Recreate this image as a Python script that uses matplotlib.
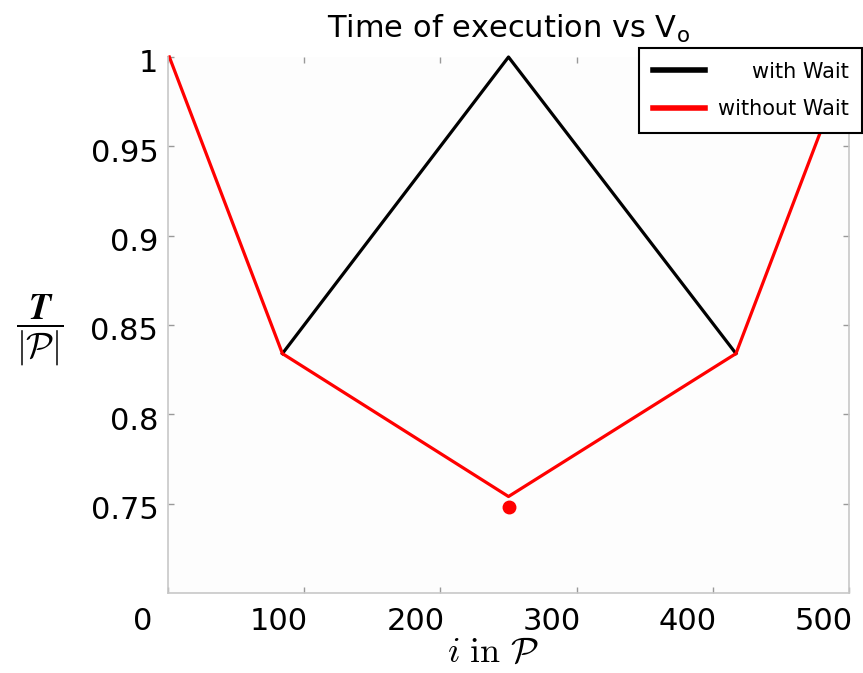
import matplotlib
matplotlib.use("Agg")
import matplotlib.pyplot as plt
from matplotlib.transforms import ScaledTranslation

# data
x_wait = [84, 250, 417]
t_wait = [0.834, 1.0, 0.834]

x_nowait = [1, 84, 250, 417, 500]
t_nowait = [1.0, 0.834, 0.754, 0.834, 1.0]

best_x = [250]
best_t = [0.748]

xticks = [0, 100, 200, 300, 400, 500]
yticks = [0.75, 0.8, 0.85, 0.9, 0.95, 1.0]
ytick_labels = ['0.75', '0.8', '0.85', '0.9', '0.95', '1']

plt.rcParams['font.family'] = 'DejaVu Sans'

fig = plt.figure(figsize=(8.63, 6.73), dpi=100)
ax = fig.add_axes([168/863, 1 - 593/673, (849-168)/863, (593-57)/673])
ax.set_facecolor('#fdfdfd')

ax.plot(x_wait, t_wait, color='black', lw=2.3, label='with Wait', clip_on=False)
ax.plot(x_nowait, t_nowait, color='red', lw=2.3, label='without Wait', clip_on=False)
ax.plot(best_x, best_t, 'o', color='red', ms=9, clip_on=False)

ax.set_xlim(0, 500)
ax.set_ylim(0.7, 1.0)
ax.set_xticks(xticks)
ax.set_xticklabels([str(v) for v in xticks])
ax.set_yticks(yticks)
ax.set_yticklabels(ytick_labels)

for s in ['left', 'bottom', 'right']:
    ax.spines[s].set_color('#c8c8c8')
    ax.spines[s].set_linewidth(1.2)
ax.spines['top'].set_visible(False)
ax.tick_params(direction='in', length=4, width=1, color='#999999',
               top=True, right=True, labelsize=22)
ax.tick_params(axis='x', pad=10)
ax.tick_params(axis='y', pad=7)

# tick labels in the original sit a little off their ticks
dx = ScaledTranslation(-0.25, 0, fig.dpi_scale_trans)
for lab in ax.get_xticklabels():
    lab.set_transform(lab.get_transform() + dx)
dy = ScaledTranslation(0, -0.04, fig.dpi_scale_trans)
for lab in ax.get_yticklabels():
    lab.set_transform(lab.get_transform() + dy)

ax.set_title(r'Time of execution vs V$_{\mathrm{o}}$', fontsize=22, pad=14)
ax.set_xlabel(r'$i\ \mathrm{in}\ \mathcal{P}$', fontsize=26, math_fontfamily='cm')
ax.xaxis.set_label_coords(0.477, -0.078)
ax.set_ylabel(r'$\dfrac{\boldsymbol{T}}{|\mathcal{P}|}$', fontsize=26,
              math_fontfamily='cm', rotation=0, va='center', ha='center')
ax.yaxis.set_label_coords(-0.188, 0.49)

leg = fig.legend(loc='upper right', bbox_to_anchor=(862/863, 1 - 48/673),
                 fontsize=15, frameon=True, fancybox=False, framealpha=1,
                 edgecolor='black', handlelength=2.5, handletextpad=0.6,
                 labelspacing=0.85, borderpad=0.65, borderaxespad=0)
leg.get_frame().set_linewidth(1.5)
for line in leg.get_lines():
    line.set_linewidth(4)

# right-align the legend entries
renderer = fig.canvas.get_renderer()
widths = [t.get_window_extent(renderer).width for t in leg.get_texts()]
for t, w in zip(leg.get_texts(), widths):
    t.set_position((max(widths) - w, 0))

fig.savefig('out.png', dpi=100)
